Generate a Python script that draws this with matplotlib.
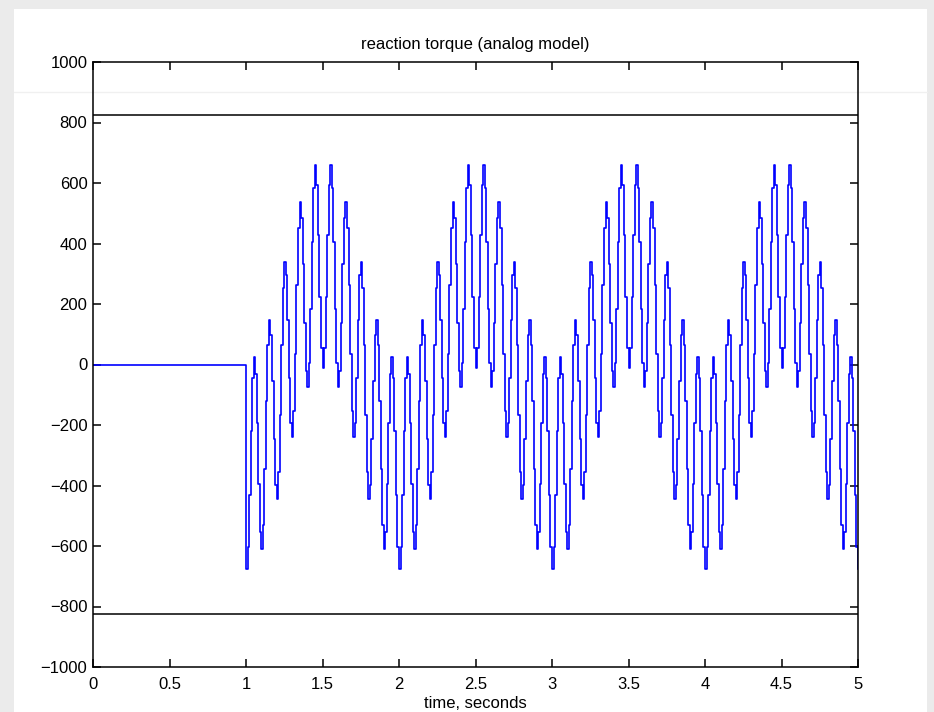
import numpy as np
import matplotlib
matplotlib.use("Agg")
import matplotlib.pyplot as plt
from matplotlib.patches import Rectangle
from matplotlib.lines import Line2D

plt.rcParams['font.family'] = ['Liberation Sans', 'DejaVu Sans']

# one slow period (1 s) of the held torque samples, read every 0.01 s
cycle_torque = [
    -675, -604, -432, -219, -45, 26, -32, -194, -394, -554,
    -610, -529, -346, -121, 65, 146, 98, -54, -246, -397,
    -445, -357, -167, 64, 254, 340, 296, 146, -43, -193,
    -240, -153, 36, 264, 452, 538, 485, 331, 136, -21,
    -73, 4, 184, 404, 582, 658, 595, 429, 222, 54,
    -10, 54, 222, 429, 595, 658, 582, 404, 184, 4,
    -73, -21, 136, 331, 485, 538, 452, 264, 36, -153,
    -240, -193, -43, 146, 296, 340, 254, 64, -167, -357,
    -445, -397, -246, -54, 98, 146, 65, -121, -346, -529,
    -610, -554, -394, -194, -32, 26, -45, -219, -432, -604,
]
n_cycles = 4
t_start = 1.0
dt = 0.01
torque_limit = 825

torque = np.concatenate([np.tile(cycle_torque, n_cycles), [cycle_torque[0]]])
t = t_start + dt * np.arange(len(torque))
t_all = np.concatenate([[0.0], t])
y_all = np.concatenate([[0.0], torque])

fig = plt.figure(figsize=(9.34, 7.12), dpi=100)
fig.patch.set_facecolor('#ebebeb')
# white slide area behind the plot
fig.patches.append(Rectangle((14 / 934, 0), (927 - 14) / 934, (712 - 9) / 712,
                             transform=fig.transFigure, facecolor='white',
                             edgecolor='none', zorder=-10))
# faint band edge of the slide, seen through the plot
fig.add_artist(Line2D([14 / 934, 927 / 934], [1 - 92 / 712, 1 - 92 / 712],
                      transform=fig.transFigure, color='#f0f0f0', lw=1, zorder=1))

ax = fig.add_axes([93 / 934, 45 / 712, (858 - 93) / 934, (667 - 62) / 712])
ax.set_zorder(5)
ax.set_facecolor('none')
ax.step(t_all, y_all, where='post', color='blue', lw=1.2)
ax.axhline(torque_limit, color='black', lw=1.1)
ax.axhline(-torque_limit, color='black', lw=1.1)

ax.set_xlim(0, 5)
ax.set_ylim(-1000, 1000)
ax.set_xticks(np.arange(0, 5.01, 0.5))
ax.set_xticklabels(['0', '0.5', '1', '1.5', '2', '2.5', '3', '3.5', '4', '4.5', '5'])
ax.set_yticks(np.arange(-1000, 1001, 200))
ax.tick_params(direction='in', length=6, width=1.1, top=True, right=True,
               labelsize=12, colors='black')
ax.tick_params(axis='x', pad=7)
ax.tick_params(axis='y', pad=4)
for s in ax.spines.values():
    s.set_linewidth(1.1)

ax.set_title('reaction torque (analog model)', fontsize=12, pad=9)
ax.set_xlabel('time, seconds', fontsize=12, labelpad=3)

fig.savefig('out.png', dpi=100, facecolor=fig.get_facecolor())
